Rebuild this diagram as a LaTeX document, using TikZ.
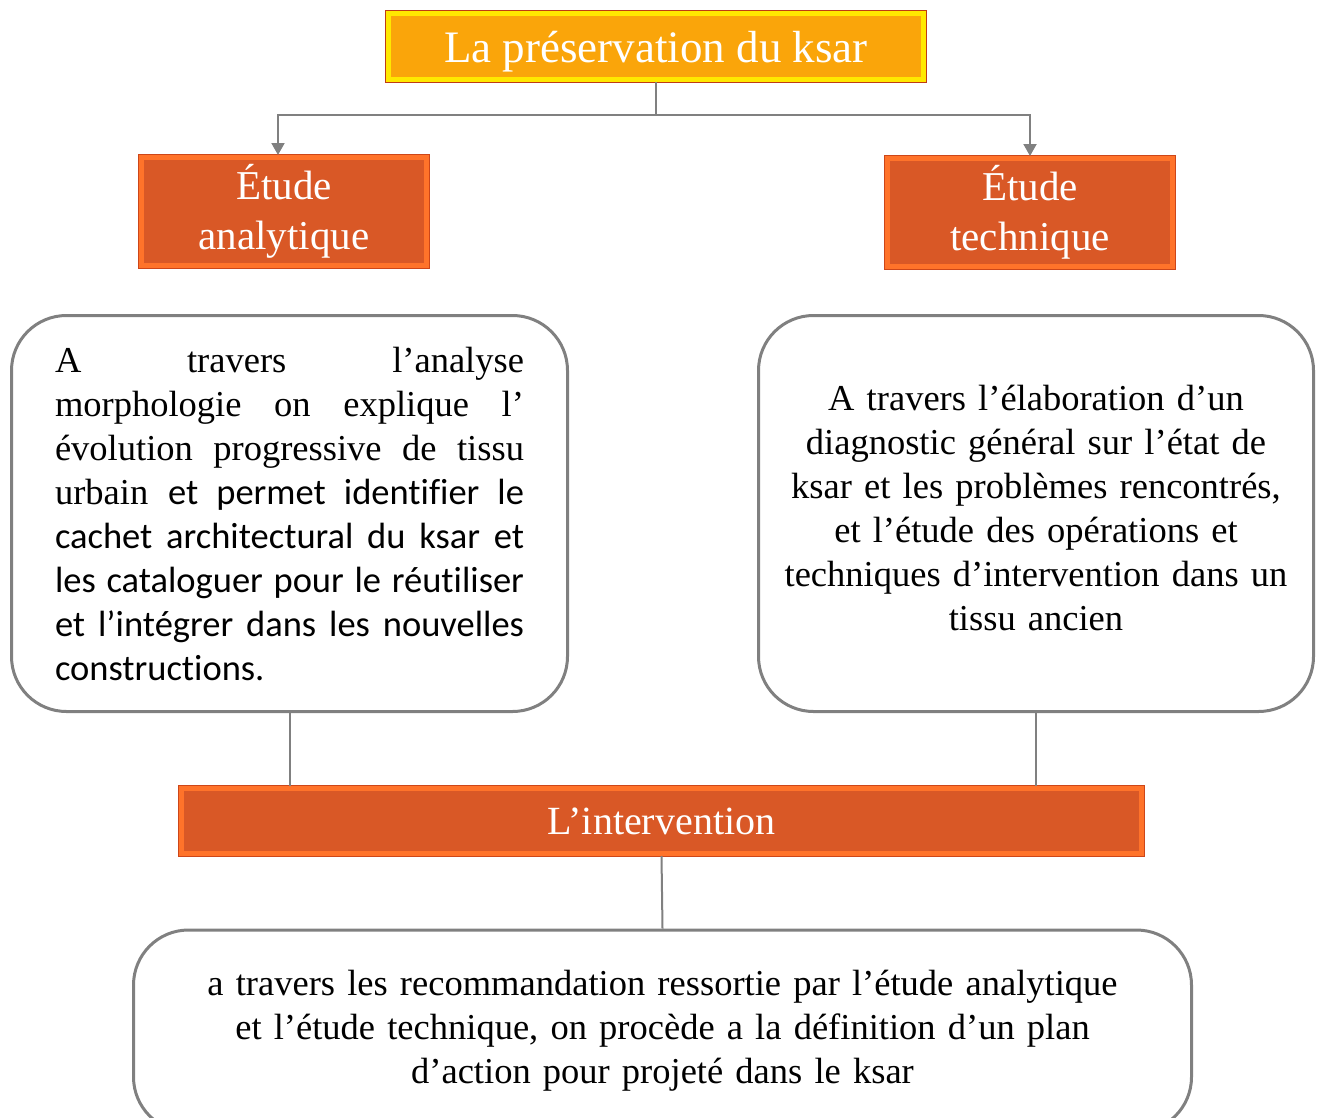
\documentclass[tikz,border=0pt]{standalone}
\usepackage{fontspec}
\setmainfont{Liberation Serif}
\newfontfamily\calibri[Ligatures=NoCommon]{Carlito}
\usetikzlibrary{arrows.meta}
\definecolor{titorange}{RGB}{250,165,10}
\definecolor{tityellow}{RGB}{255,232,0}
\definecolor{titdark}{RGB}{190,60,20}
\definecolor{boxorange}{RGB}{217,88,38}
\definecolor{boxbevel}{RGB}{255,115,42}
\definecolor{boxdark}{RGB}{205,70,25}
\definecolor{linegray}{RGB}{128,128,128}
\begin{document}
\begin{tikzpicture}[x=1pt,y=-1pt,
  titbox/.style={fill=titorange, draw=tityellow, line width=5pt, preaction={draw=titdark, line width=7pt}, inner sep=0pt, text=white},
  studybox/.style={fill=boxorange, draw=boxbevel, line width=5pt, preaction={draw=boxdark, line width=7pt}, inner sep=0pt, text=white, align=center, font=\fontsize{41}{50}\selectfont},
  textbox/.style={draw=linegray, line width=3pt, rounded corners=55pt, inner sep=0pt, font=\fontsize{36.5}{44}\selectfont},
  link/.style={draw=linegray, line width=2pt},
  arr/.style={link, -{Triangle[width=13pt,length=12pt]}}]
\useasboundingbox (0,0) rectangle (1320,1117);
\hyphenpenalty=10000
\node[titbox, minimum width=535pt, minimum height=66pt, text height=41pt, text depth=10pt, font=\fontsize{45}{54}\selectfont] (ksar) at (656,46.5){La préservation du ksar};
\node[studybox, minimum width=285pt, minimum height=108pt] (ana) at (284,211.5){Étude\\analytique};
\node[studybox, minimum width=285pt, minimum height=108pt] (tech) at (1030,212.5){Étude\\technique};
\node[textbox, minimum width=556pt, minimum height=396pt, text width=469pt, align=justify] (anatxt) at (289.5,513.5){A travers l’analyse\linebreak
morphologie on explique l’\linebreak
évolution progressive de tissu\linebreak
urbain {\calibri et permet identifier le\linebreak
cachet architectural du ksar et\linebreak
les cataloguer pour le réutiliser\linebreak
et l’intégrer dans les nouvelles\linebreak
constructions.}};
\node[textbox, minimum width=555pt, minimum height=396pt, text width=540pt, align=center] (techtxt) at (1036,513.5){A travers l’élaboration d’un\\
diagnostic général sur l’état de\\
ksar et les problèmes rencontrés,\\
et l’étude des opérations et\\
techniques d’intervention dans un\\
tissu ancien\\[-32pt]\mbox{}};
\node[studybox, minimum width=960pt, minimum height=65pt, font=\fontsize{40}{48}\selectfont] (interv) at (661.5,821){L’intervention};
\node[textbox, minimum width=1058pt, minimum height=202pt, text width=1040pt, align=center] (plan) at (662.5,1031){a travers les recommandation ressortie par l’étude analytique\\
et l’étude technique, on procède a la définition d’un plan\\
d’action pour projeté dans le ksar};
\draw[arr](ksar.south) -- ++(0,33) -| ([xshift=-6pt]ana.north);
\draw[arr](ksar.south) -- ++(0,33) -| (tech.north);
\draw[link](anatxt.south) -- (anatxt.south |- interv.north);
\draw[link](techtxt.south) -- (techtxt.south |- interv.north);
\draw[link](interv.south) -- (plan.north);
\end{tikzpicture}
\end{document}
